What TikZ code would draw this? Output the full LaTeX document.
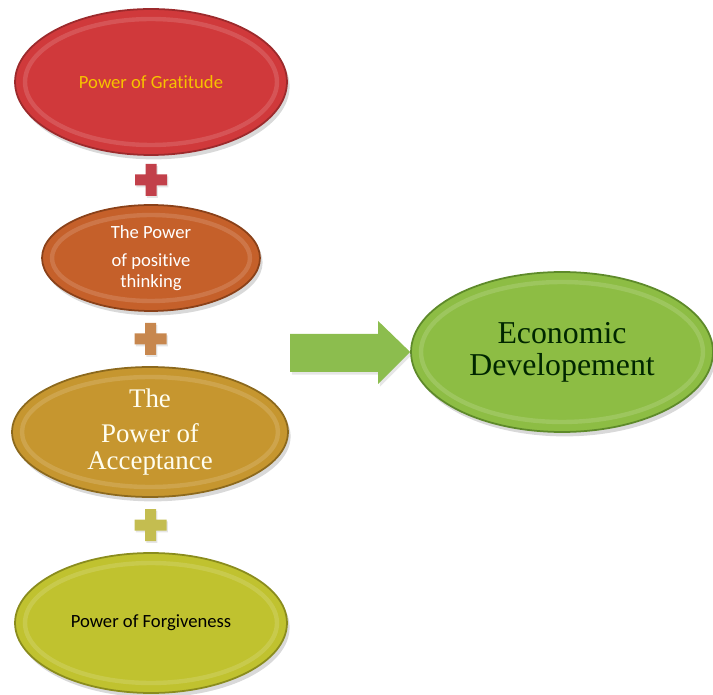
\documentclass[tikz,border=0pt]{standalone}
\usepackage{fontspec}
\usetikzlibrary{shapes.geometric,shadows,calc}
\newfontfamily\calibfont[Ligatures=NoCommon]{Carlito}
\newfontfamily\timesfont{Liberation Serif}

\definecolor{gratfill}{HTML}{D0393B}
\definecolor{gratedge}{HTML}{9C2A2C}
\definecolor{gratext}{HTML}{F7C200}
\definecolor{posifill}{HTML}{C5602A}
\definecolor{posiedge}{HTML}{8A4119}
\definecolor{accefill}{HTML}{C6962F}
\definecolor{acceedge}{HTML}{8C691D}
\definecolor{forgfill}{HTML}{C0C22F}
\definecolor{forgedge}{HTML}{8A8C1D}
\definecolor{econfill}{HTML}{8DBD44}
\definecolor{econedge}{HTML}{5E8A2A}
\definecolor{arrowgreen}{HTML}{8CBD4E}
\definecolor{plusred}{HTML}{C2404A}
\definecolor{plusorange}{HTML}{C7874E}
\definecolor{plusyellow}{HTML}{C4BD50}

% cross between two ovals
\newcommand\plussign[2]{%
  \fill[#2, drop shadow={opacity=0.2,shadow xshift=0.8pt,shadow yshift=-1pt}] (#1) ++(-5.5,-16) -- ++(11,0) -- ++(0,10.5) -- ++(10.5,0) -- ++(0,11)
    -- ++(-10.5,0) -- ++(0,10.5) -- ++(-11,0) -- ++(0,-10.5) -- ++(-10.5,0) -- ++(0,-11) -- ++(10.5,0) -- cycle;}

\begin{document}
\begin{tikzpicture}[x=0.02cm,y=-0.02cm,
    bubble/.style n args={4}{ellipse, minimum width=#1, minimum height=#2,
      fill=#3, draw=#4, line width=1pt, inner sep=0pt, align=center,
      drop shadow={opacity=0.3,shadow xshift=1.5pt,shadow yshift=-2.5pt},
      path picture={\draw[white,opacity=0.14,line width=2.5pt]
        (path picture bounding box.center) ellipse [x radius={0.5*#1-0.2cm}, y radius={0.5*#2-0.2cm}];}},
    sanstext/.style={font=\calibfont\fontsize{10.6}{12}\selectfont},
    seriftext/.style={font=\timesfont\fontsize{#1}{#1}\selectfont}]
  \useasboundingbox (0,0) rectangle (713,695);

  % left column
  \node[bubble={5.44cm}{2.92cm}{gratfill}{gratedge}, sanstext, text=gratext] (grat) at (151,82) {Power of Gratitude};
  \node[bubble={4.36cm}{2.12cm}{posifill}{posiedge}, sanstext, text=white] (posi) at (151,258) {The Power\\[4pt]of positive\\thinking};
  \node[bubble={5.52cm}{2.6cm}{accefill}{acceedge}, seriftext=15.3, text={white!94!yellow}] (acce) at (150,432) {The\\[5pt]Power of\\Acceptance};
  \node[bubble={5.44cm}{2.8cm}{forgfill}{forgedge}, sanstext, text=black] (forg) at (151,623) {Power of Forgiveness};

  % result
  \node[bubble={6.04cm}{3.2cm}{econfill}{econedge}, seriftext=18.1, text={black!85!green}] (econ) at (562,352) {Economic\\Developement};

  \coordinate (p1) at ($(grat.south)!0.5!(posi.north)$);
  \coordinate (p2) at ($(posi.south)!0.5!(acce.north)$);
  \coordinate (p3) at ($(acce.south)!0.5!(forg.north)$);
  \plussign{p1}{plusred}
  \plussign{p2}{plusorange}
  \plussign{p3}{plusyellow}

  % big arrow
  \coordinate (tip) at (econ.west);
  \fill[arrowgreen, drop shadow={opacity=0.2,shadow xshift=1pt,shadow yshift=-1.5pt}] (tip) -- ++(-32,-31) -- ++(0,13) -- ++(-88,0) -- ++(0,38) -- ++(88,0) -- ++(0,12) -- cycle;
\end{tikzpicture}
\end{document}
